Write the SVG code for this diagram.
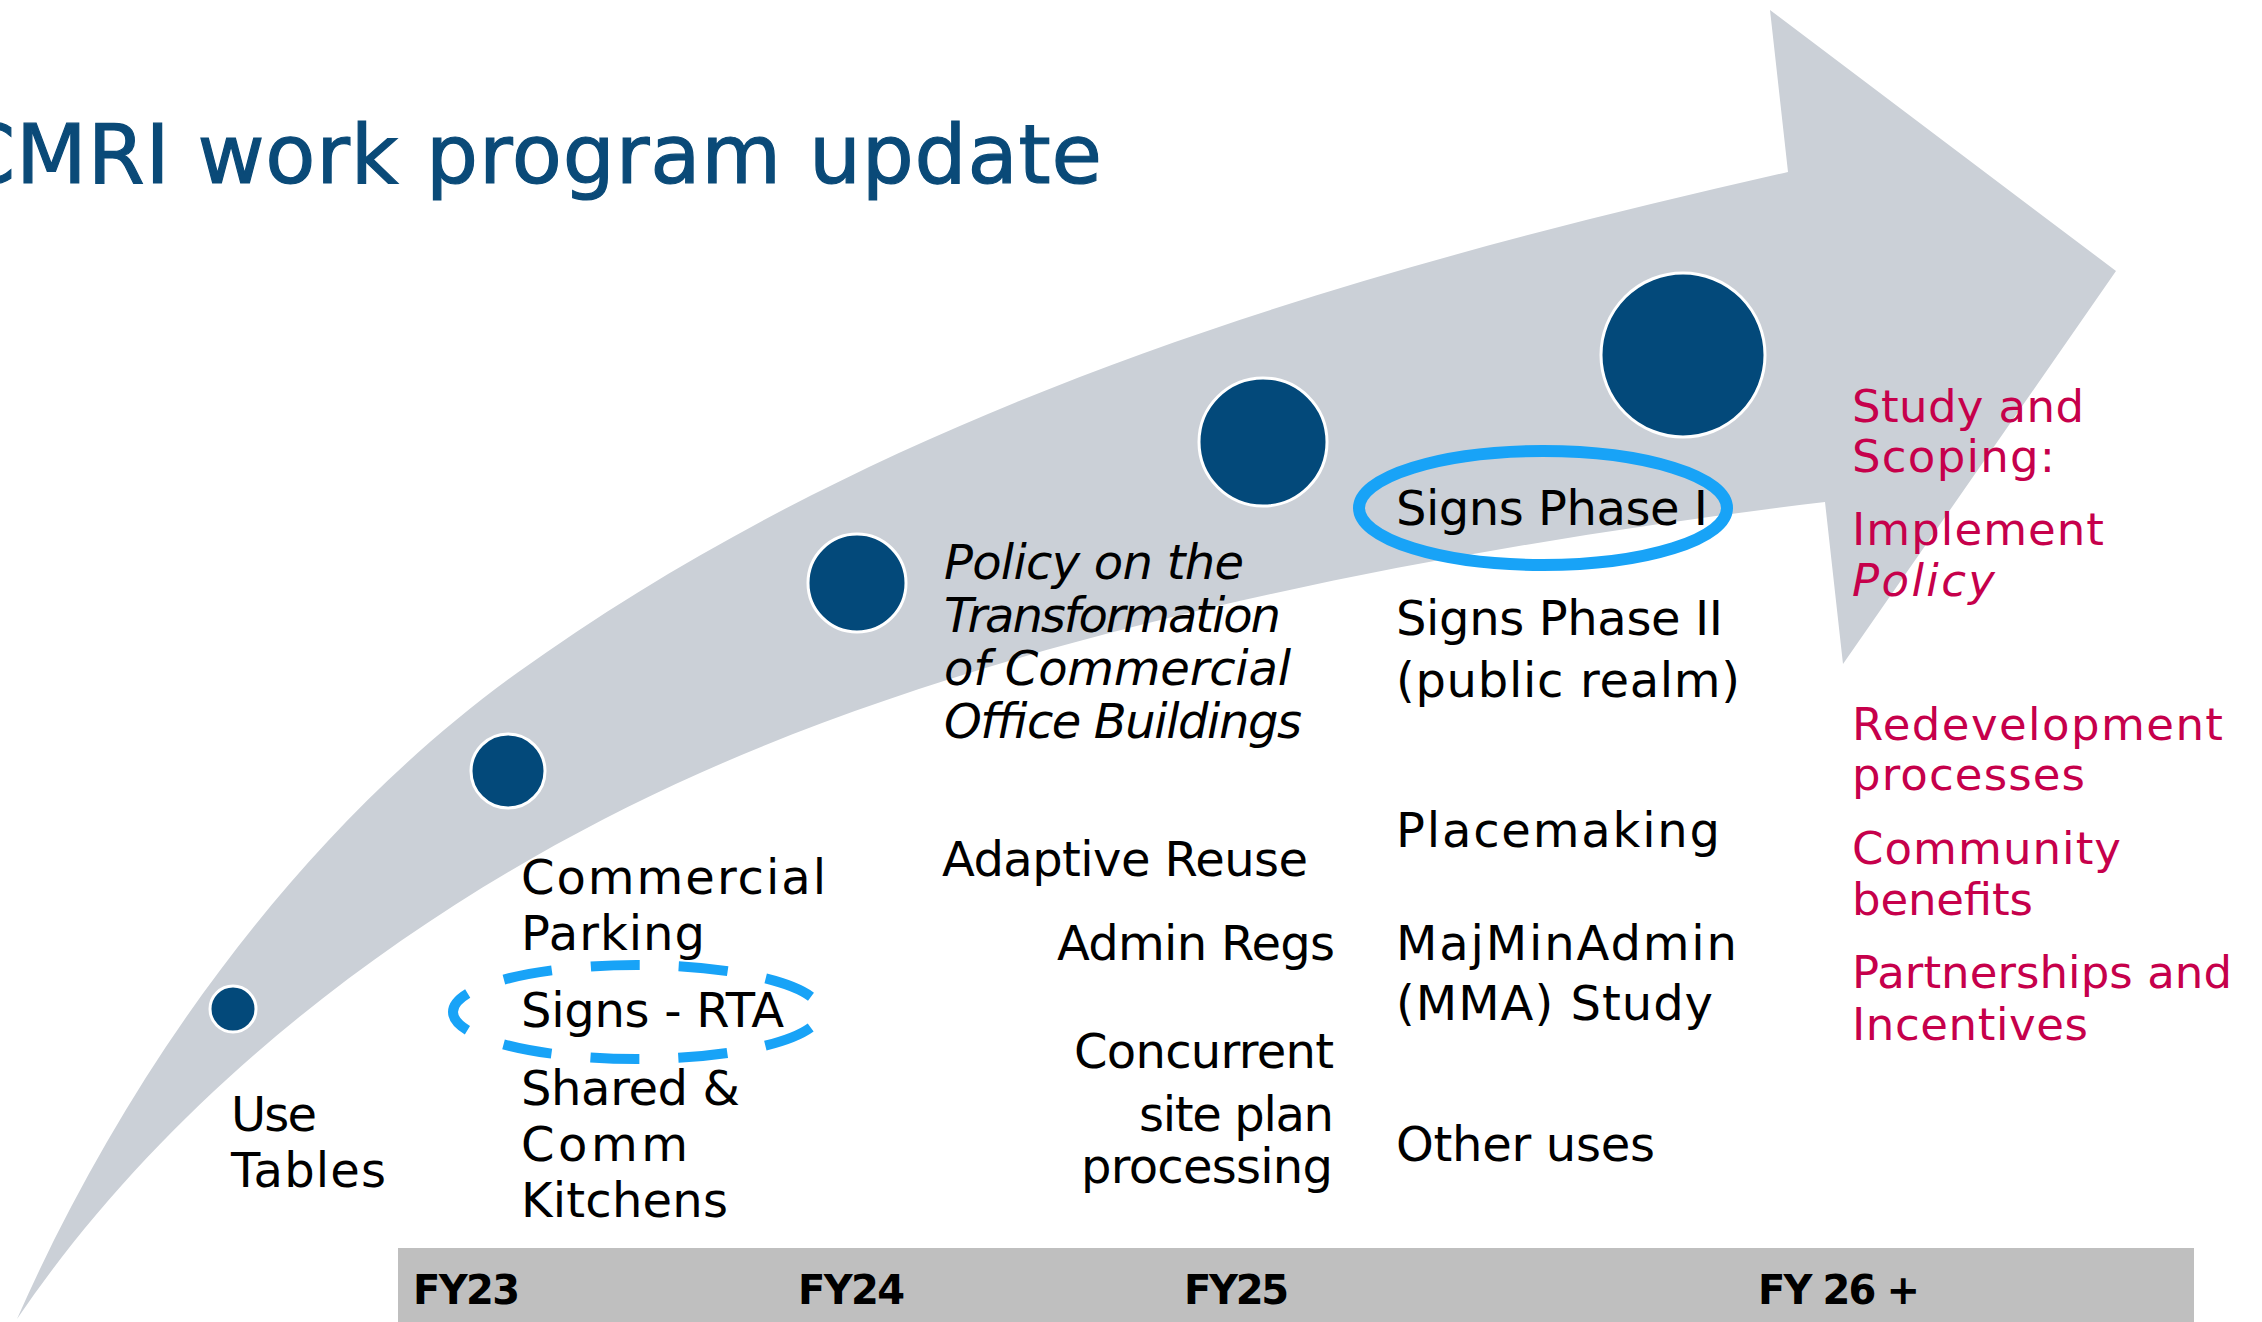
<svg xmlns="http://www.w3.org/2000/svg" width="2262" height="1322" viewBox="0 0 2262 1322">
<style>
.t{font-family:"DejaVu Sans","Noto Sans",sans-serif;font-size:48px;fill:#000}
.it{font-style:italic}
.red{fill:#C6004B;font-size:45px}
.fy{font-weight:bold;font-size:40px}
.title{fill:#0A4A78;font-size:82px;stroke:#0A4A78;stroke-width:1.2}
.dot{fill:#03497A;stroke:#fff;stroke-width:3}
.ring{fill:none;stroke:#18A3F7}
</style>
<rect width="2262" height="1322" fill="#fff"/>
<g id="connectors">
<path id="timeline-arrow" fill="#CBD0D7" d="M17,1319 C126,1072 298,831 517,673 C886,407 1344,272 1788,172 L1770,10 L2116,271 L1843,664 L1825,502 C1443,548 1020,630 700,773 C435,891 180,1079 17,1319 Z"/>
</g>
<g id="title"><text class="t title" x="-42" y="183" textLength="1144">CMRI work program update</text></g>
<g id="timeline-bar">
<rect x="398" y="1248" width="1796" height="74" fill="#BFBFBF"/>
<text class="t fy" x="413" y="1304" textLength="107">FY23</text>
<text class="t fy" x="798" y="1304" textLength="107">FY24</text>
<text class="t fy" x="1184" y="1304" textLength="105">FY25</text>
<text class="t fy" x="1758" y="1304" textLength="162">FY 26 +</text>
</g>
<g id="milestone-1"><circle class="dot" cx="233" cy="1009" r="23"/></g>
<g id="milestone-2"><circle class="dot" cx="508" cy="771" r="37"/></g>
<g id="milestone-3"><circle class="dot" cx="857" cy="583" r="49"/></g>
<g id="milestone-4"><circle class="dot" cx="1263" cy="442" r="64"/></g>
<g id="milestone-5"><circle class="dot" cx="1683" cy="355" r="82"/></g>
<g id="fy23-items">
<text class="t" x="231" y="1131" textLength="86">Use</text>
<text class="t" x="231" y="1187" textLength="155">Tables</text>
</g>
<g id="fy23b-items">
<text class="t" x="521" y="894" textLength="305">Commercial</text>
<text class="t" x="521" y="950" textLength="184">Parking</text>
<ellipse class="ring" cx="637" cy="1012" rx="184" ry="47" stroke-width="10" stroke-dasharray="49 38.9" stroke-dashoffset="68.45"/>
<text class="t" x="521" y="1027" textLength="263">Signs - RTA</text>
<text class="t" x="521" y="1105" textLength="219">Shared &amp;</text>
<text class="t" x="521" y="1161" textLength="167">Comm</text>
<text class="t" x="521" y="1217" textLength="207">Kitchens</text>
</g>
<g id="fy24-items">
<text class="t it" x="944" y="579" textLength="300">Policy on the</text>
<text class="t it" x="944" y="632" textLength="337">Transformation</text>
<text class="t it" x="944" y="685" textLength="347">of Commercial</text>
<text class="t it" x="944" y="738" textLength="358">Office Buildings</text>
<text class="t" x="942" y="876" textLength="366">Adaptive Reuse</text>
<text class="t" x="1057" y="960" textLength="278">Admin Regs</text>
<text class="t" x="1074" y="1068" textLength="260">Concurrent</text>
<text class="t" x="1139" y="1131" textLength="195">site plan</text>
<text class="t" x="1081" y="1183" textLength="252">processing</text>
</g>
<g id="fy25-items">
<ellipse class="ring" cx="1543" cy="508" rx="184" ry="57" stroke-width="12"/>
<text class="t" x="1396" y="525" textLength="312">Signs Phase I</text>
<text class="t" x="1396" y="635" textLength="327">Signs Phase II</text>
<text class="t" x="1396" y="697" textLength="344">(public realm)</text>
<text class="t" x="1396" y="847" textLength="324">Placemaking</text>
<text class="t" x="1396" y="960" textLength="341">MajMinAdmin</text>
<text class="t" x="1396" y="1020" textLength="317">(MMA) Study</text>
<text class="t" x="1396" y="1161" textLength="259">Other uses</text>
</g>
<g id="fy26-items">
<text class="t red" x="1852" y="422" textLength="232">Study and</text>
<text class="t red" x="1852" y="472" textLength="203">Scoping:</text>
<text class="t red" x="1852" y="545" textLength="252">Implement</text>
<text class="t red it" x="1852" y="596" textLength="143">Policy</text>
<text class="t red" x="1852" y="740" textLength="371">Redevelopment</text>
<text class="t red" x="1852" y="790" textLength="233">processes</text>
<text class="t red" x="1852" y="864" textLength="269">Community</text>
<text class="t red" x="1852" y="915" textLength="181">benefits</text>
<text class="t red" x="1852" y="988" textLength="380">Partnerships and</text>
<text class="t red" x="1852" y="1040" textLength="236">Incentives</text>
</g>
</svg>
